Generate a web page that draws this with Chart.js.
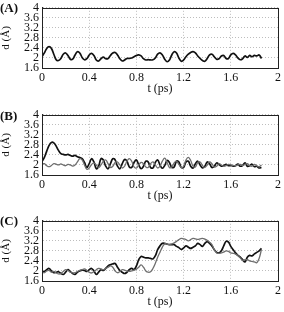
<!DOCTYPE html>
<html>
<head>
<meta charset="utf-8">
<script src="https://cdn.jsdelivr.net/npm/chart.js@4.4.1/dist/chart.umd.min.js"></script>
<style>
  body { margin: 0; background: #fff; width: 284px; height: 312px; position: relative; overflow: hidden; }
  .panel { position: absolute; left: 0; width: 284px; height: 96px; }
  .tag { position: absolute; left: 0; font: bold 13px "Liberation Serif", serif; color: #111; }
</style>
</head>
<body>
<div class="panel" style="top:0px"><canvas id="chartA"></canvas></div>
<div class="panel" style="top:107px"><canvas id="chartB"></canvas></div>
<div class="panel" style="top:213px"><canvas id="chartC"></canvas></div>
<div class="tag" style="top:0px">(A)</div>
<div class="tag" style="top:108px">(B)</div>
<div class="tag" style="top:213px">(C)</div>

<script>
// time axis (ps)
const times = [0.00,0.02,0.04,0.06,0.08,0.10,0.12,0.14,0.16,0.18,0.20,0.22,0.24,0.26,0.28,0.30,0.32,0.34,0.36,0.38,
    0.40,0.42,0.44,0.46,0.48,0.50,0.52,0.54,0.56,0.58,0.60,0.62,0.64,0.66,0.68,0.70,0.72,0.74,0.76,0.78,
    0.80,0.82,0.84,0.86,0.88,0.90,0.92,0.94,0.96,0.98,1.00,1.02,1.04,1.06,1.08,1.10,1.12,1.14,1.16,1.18,
    1.20,1.22,1.24,1.26,1.28,1.30,1.32,1.34,1.36,1.38,1.40,1.42,1.44,1.46,1.48,1.50,1.52,1.54,1.56,1.58,
    1.60,1.62,1.64,1.66,1.68,1.70,1.72,1.74,1.76,1.78,1.80,1.82,1.84,1.86];

// panel A
const distA = [2.05,2.2,2.38,2.45,2.38,2.15,1.93,1.9,1.98,2.15,2.2,2.1,1.95,1.95,2.12,2.25,2.2,2.02,1.93,1.97,
    2.12,2.18,2.1,1.92,1.88,1.97,2.03,1.97,1.98,2.1,2.2,2.22,2.12,1.97,1.88,1.92,1.98,1.98,2.0,2.05,
    2.1,2.12,2.08,1.97,1.92,1.93,1.92,1.93,2.0,2.15,2.2,2.12,1.95,1.85,1.92,2.12,2.25,2.2,2.0,1.87,
    1.92,2.05,2.15,2.22,2.25,2.2,2.08,1.98,1.9,1.87,1.98,2.12,2.15,2.05,1.95,1.97,2.08,2.1,1.98,1.98,
    2.12,2.18,2.12,2.0,1.93,1.97,2.08,2.02,2.1,2.05,2.1,2.08,2.12,1.98];

// panel B
const distB1 = [2.13,2.3,2.55,2.78,2.9,2.88,2.75,2.58,2.45,2.42,2.4,2.42,2.38,2.35,2.38,2.33,2.3,2.25,2.1,1.9,
    2.05,2.25,2.12,1.85,1.95,2.25,2.2,1.95,1.85,2.05,2.25,2.2,1.95,1.85,2.05,2.22,2.15,1.92,1.9,2.1,
    2.2,2.0,1.85,1.95,2.15,2.12,1.9,1.88,2.1,2.2,2.0,1.87,1.98,2.18,2.1,1.9,1.92,2.15,2.12,1.9,
    1.9,2.12,2.15,1.95,1.88,2.05,2.15,2.0,1.88,1.95,2.12,2.05,1.9,1.95,2.08,2.02,1.95,1.98,2.02,1.97,
    1.98,1.95,1.97,2.03,1.95,1.98,2.08,1.95,1.97,2.03,1.93,1.95,1.88,1.9];
const distB2 = [2.05,2.05,1.97,1.93,1.98,2.05,2.03,2.0,2.04,2.0,1.97,2.02,2.0,1.95,2.0,2.12,2.25,2.2,2.0,1.83,
    1.88,2.02,2.08,2.0,1.9,2.0,2.15,2.2,2.05,1.9,1.95,2.1,2.12,2.0,1.88,1.95,2.15,2.25,2.15,1.92,
    1.88,2.0,2.1,2.05,1.92,1.9,2.05,2.12,2.0,1.88,1.95,2.15,2.27,2.1,1.9,1.92,2.08,2.15,2.02,1.9,
    1.95,2.2,2.3,2.18,1.95,1.92,2.1,2.12,1.98,1.9,2.0,2.12,2.05,1.92,1.95,2.05,2.0,1.95,1.97,2.02,
    2.0,1.98,1.97,2.0,2.02,1.97,2.02,2.05,1.98,1.95,2.02,1.97,1.93,2.0];

// panel C
const distC1 = [1.93,1.98,2.05,2.1,2.0,1.93,1.95,1.97,1.9,1.86,1.95,2.05,1.97,1.9,1.86,1.95,2.0,2.03,2.02,1.98,
    2.05,2.1,2.0,1.86,1.95,2.05,2.02,2.1,2.2,2.25,2.28,2.3,2.15,2.02,1.95,1.9,1.95,2.05,2.1,2.05,
    2.2,2.45,2.58,2.55,2.52,2.52,2.5,2.48,2.6,2.85,3.0,3.1,3.1,3.07,3.05,3.05,3.05,2.98,2.93,2.86,
    2.92,3.0,2.95,2.9,2.95,3.0,3.1,3.05,2.98,3.1,3.17,3.1,3.0,2.85,2.74,2.72,2.8,3.0,3.18,3.15,
    2.98,2.85,2.72,2.62,2.55,2.45,2.36,2.55,2.62,2.6,2.68,2.74,2.8,2.9];
const distC2 = [1.95,1.93,2.0,2.02,1.95,1.98,1.92,1.88,1.9,1.98,2.05,2.02,1.95,1.92,1.93,1.98,2.02,2.05,2.08,2.02,
    1.95,1.92,1.97,2.05,2.1,2.08,2.05,2.1,2.15,2.2,2.15,2.0,1.93,1.98,2.05,2.03,2.0,1.98,2.0,2.03,
    2.07,2.15,2.24,2.15,2.0,1.95,1.97,2.1,2.3,2.55,2.75,2.95,3.08,3.07,3.05,3.08,3.12,3.18,3.25,3.3,
    3.28,3.25,3.2,3.25,3.3,3.28,3.26,3.28,3.3,3.27,3.22,3.15,3.05,2.85,2.72,2.7,2.72,2.75,2.8,2.78,
    2.72,2.7,2.67,2.62,2.52,2.42,2.45,2.45,2.4,2.38,2.36,2.33,2.5,2.86];

const xTicks = [0, 0.4, 0.8, 1.2, 1.6, 2];
const yTicks = [1.6, 2, 2.4, 2.8, 3.2, 3.6, 4];

const serif = '"Liberation Serif", "Times New Roman", serif';

function toPoints(values) {
    return values.map((v, i) => ({ x: times[i], y: v }));
}

function makeChart(id, series) {
    const datasets = series.map(s => ({
        data: toPoints(s.values),
        borderColor: s.color,
        borderWidth: s.width,
        pointRadius: 0,
        tension: 0.4,
        fill: false
    }));
    const gridStyle = {
        color: '#bdbdbd',
        lineWidth: 1,
        tickLength: 0,
        drawTicks: false
    };
    return new Chart(document.getElementById(id), {
        type: 'line',
        data: { datasets: datasets },
        options: {
            responsive: true,
            maintainAspectRatio: false,
            animation: false,
            layout: { padding: { top: 0, right: 5, left: 0, bottom: 0 } },
            plugins: { legend: { display: false }, tooltip: { enabled: false } },
            scales: {
                x: {
                    type: 'linear',
                    min: 0, max: 2,
                    afterBuildTicks: scale => { scale.ticks = xTicks.map(v => ({ value: v })); },
                    afterFit: scale => { scale.height = 28; },
                    grid: gridStyle,
                    border: { display: true, color: '#222', width: 1, dash: [1, 2] },
                    ticks: {
                        color: '#111', padding: 3, autoSkip: false,
                        font: { family: serif, size: 12 },
                        maxRotation: 0,
                        callback: v => String(Number(v.toFixed(1)))
                    },
                    title: {
                        display: true, text: 't (ps)', color: '#111',
                        font: { family: serif, size: 12 },
                        padding: { top: 0, bottom: 0 }
                    }
                },
                y: {
                    min: 1.6, max: 4,
                    afterBuildTicks: scale => { scale.ticks = yTicks.map(v => ({ value: v })); },
                    afterFit: scale => { scale.width = 42; },
                    grid: gridStyle,
                    border: { display: true, color: '#222', width: 1, dash: [1, 2] },
                    ticks: {
                        color: '#111', padding: 3, autoSkip: false,
                        font: { family: serif, size: 12, lineHeight: 0.8 },
                        callback: v => String(Number(v.toFixed(1)))
                    },
                    title: {
                        display: true, text: 'd (Å)', color: '#111',
                        font: { family: serif, size: 11 },
                        padding: { top: 0, bottom: 0 }
                    }
                }
            }
        },
        plugins: [{
            id: 'frame',
            afterDraw(chart) {
                const a = chart.chartArea;
                const ctx = chart.ctx;
                ctx.save();
                ctx.strokeStyle = '#222';
                ctx.lineWidth = 1;
                ctx.setLineDash([]);
                ctx.strokeRect(Math.round(a.left) + 0.5, Math.round(a.top) + 0.5,
                    Math.round(a.right - a.left), Math.round(a.bottom - a.top));
                ctx.restore();
            }
        }]
    });
}

makeChart('chartA', [
    { values: distA, color: '#111', width: 1.7 }
]);
makeChart('chartB', [
    { values: distB2, color: '#6e6e6e', width: 1.3 },
    { values: distB1, color: '#111', width: 1.7 }
]);
makeChart('chartC', [
    { values: distC2, color: '#6e6e6e', width: 1.3 },
    { values: distC1, color: '#111', width: 1.7 }
]);
</script>
</body>
</html>
